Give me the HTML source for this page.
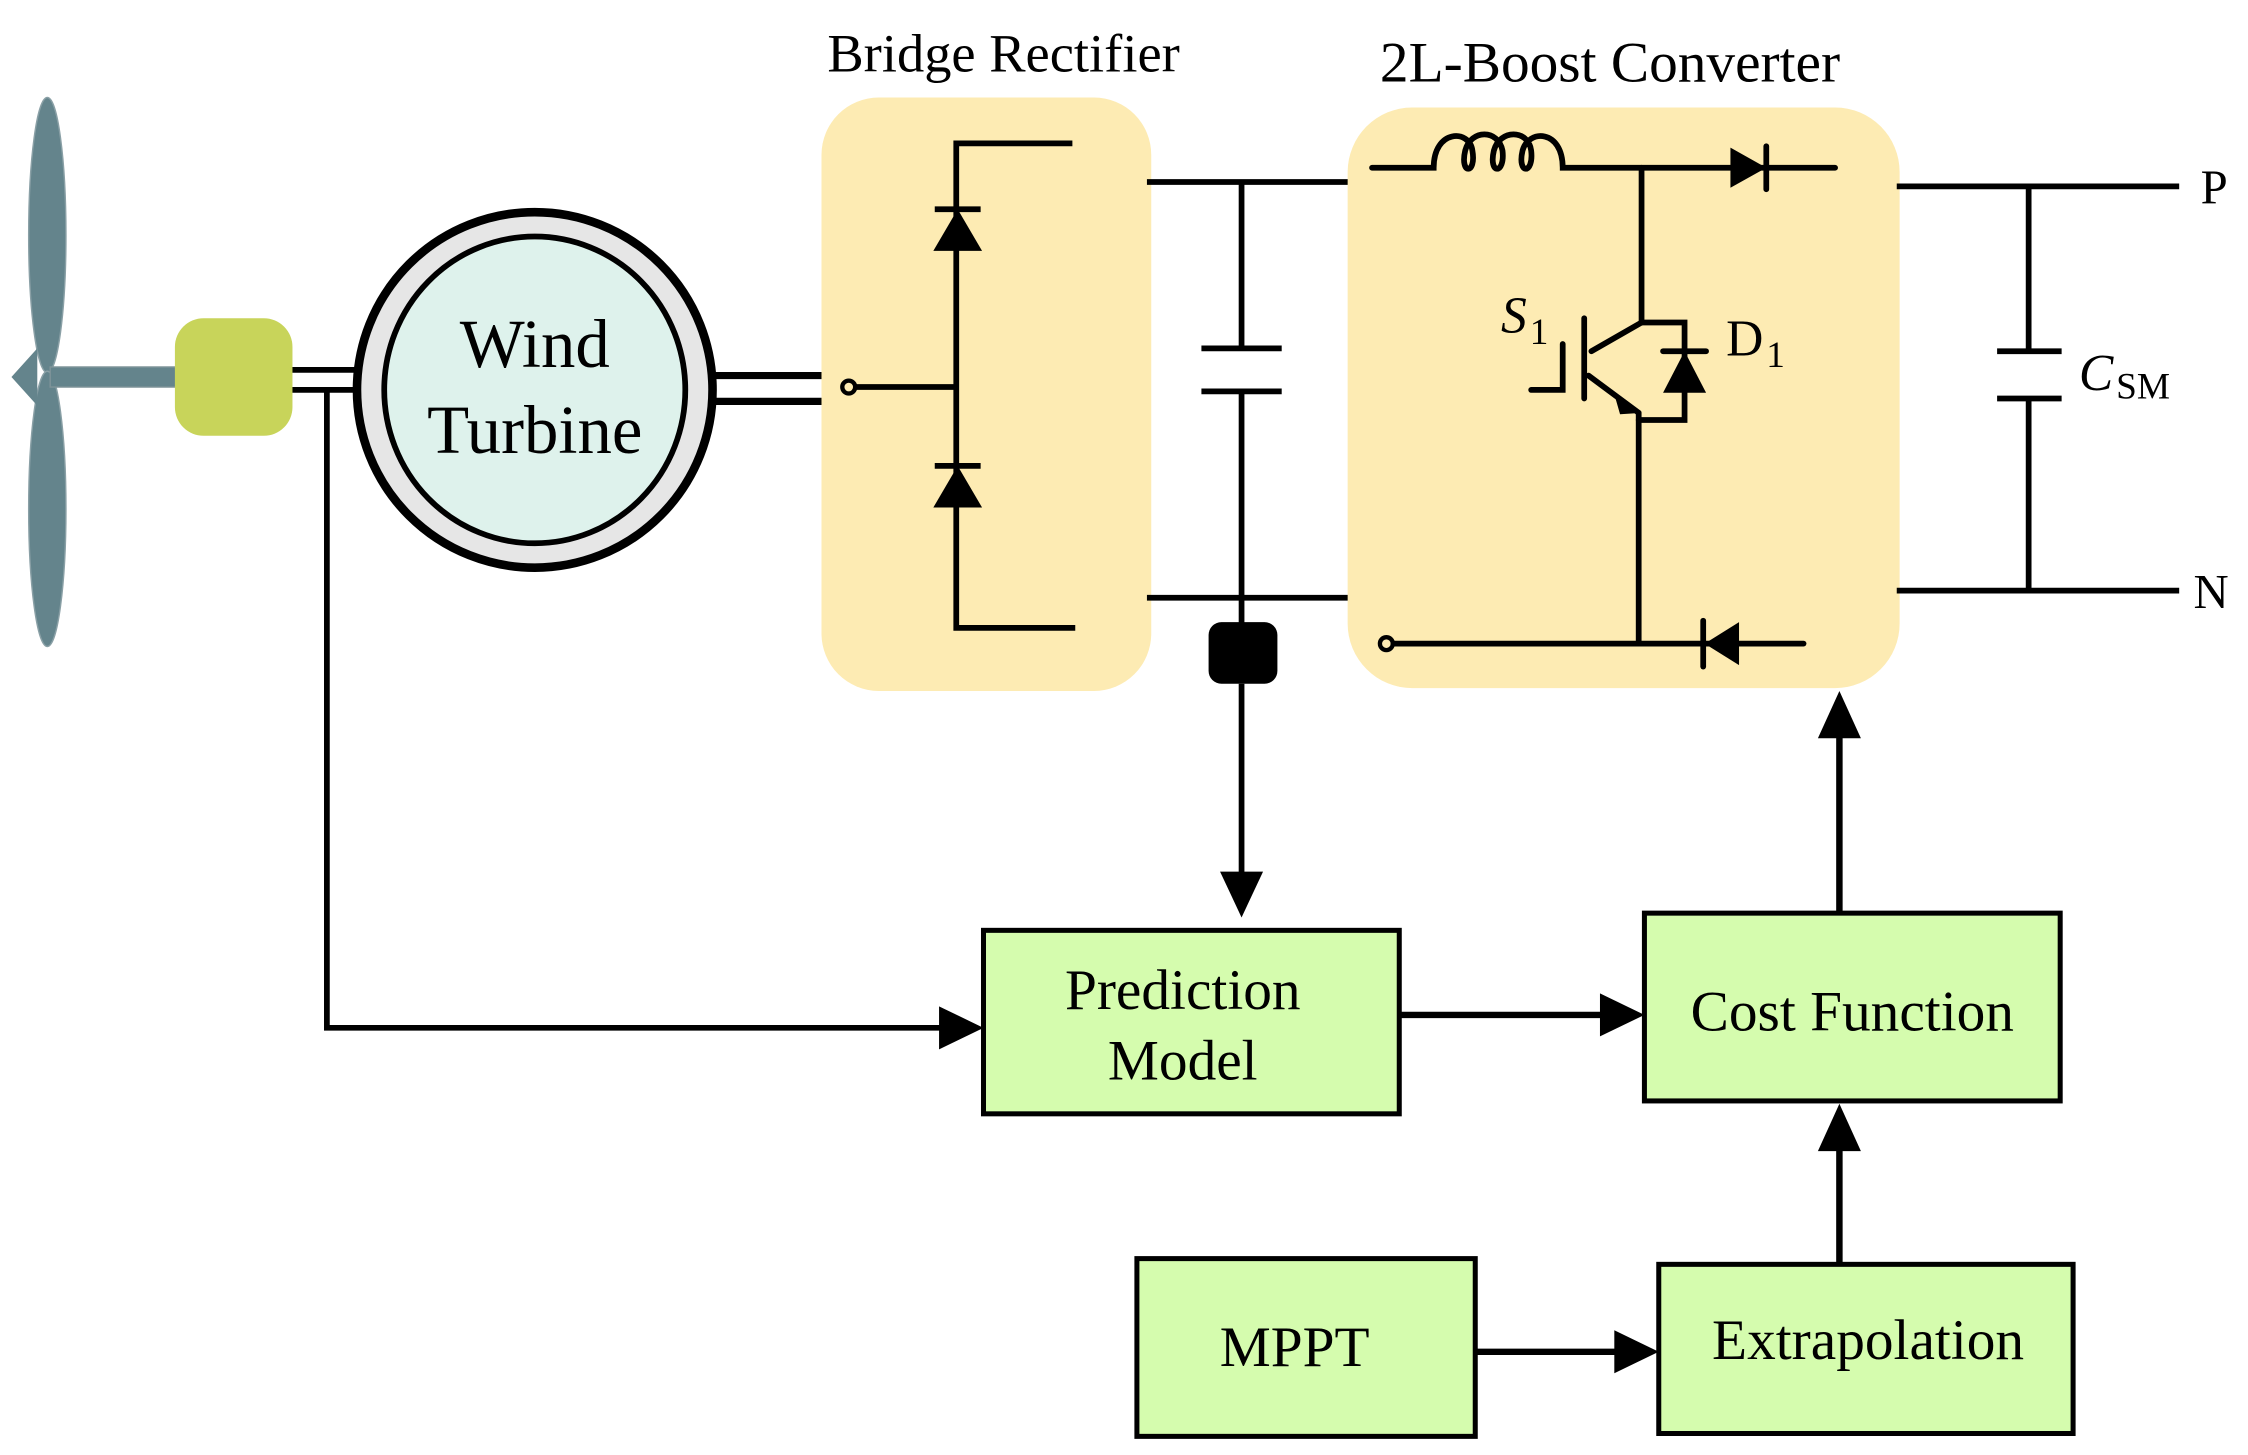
<!DOCTYPE html>
<html><head><meta charset="utf-8"><style>html,body{margin:0;padding:0;background:#fff}svg{display:block}</style></head>
<body>
<svg width="2248" height="1455" viewBox="0 0 1568 1015" preserveAspectRatio="none" xmlns="http://www.w3.org/2000/svg" font-family="Liberation Serif, serif">
<!-- blades -->
<ellipse cx="33" cy="164" rx="13" ry="96" fill="#64848c" stroke="#8aa0a6" stroke-width="1"/>
<ellipse cx="33" cy="355" rx="13" ry="96" fill="#64848c" stroke="#8aa0a6" stroke-width="1"/>
<rect x="35" y="256" width="88" height="14" fill="#64848c" stroke="#7f9499"/>
<path d="M8,263 L26,243 L26,283 Z" fill="#64848c"/>
<rect x="122" y="222" width="82" height="82" rx="20" fill="#c8d45a"/>
<g stroke="#000" stroke-width="4" fill="none">
<line x1="204" y1="258" x2="252" y2="258"/>
<line x1="204" y1="272" x2="252" y2="272"/>
<polyline points="228,272 228,717 660,717" stroke-width="4"/>
</g>
<path d="M655,702 L686,717 L655,732 Z" fill="#000"/>
<!-- generator -->
<ellipse cx="373" cy="272" rx="124" ry="124" fill="#e6e6e6" stroke="#000" stroke-width="6"/>
<ellipse cx="373" cy="272" rx="105" ry="107" fill="#def2ec" stroke="#000" stroke-width="4"/>
<text x="373" y="256" font-size="48" text-anchor="middle">Wind</text>
<text x="373" y="316" font-size="48" text-anchor="middle">Turbine</text>
<g stroke="#000" stroke-width="5"><line x1="498" y1="262" x2="574" y2="262"/><line x1="498" y1="280" x2="574" y2="280"/></g>
<!-- rectifier -->
<rect x="573" y="68" width="230" height="414" rx="40" fill="#fdebb3"/>
<text x="700" y="50" font-size="38" text-anchor="middle">Bridge Rectifier</text>
<g stroke="#000" stroke-width="4" fill="none">
<circle cx="592" cy="270" r="4.5" stroke-width="3"/>
<line x1="597" y1="270" x2="667" y2="270"/>
<polyline points="748,100 667,100 667,438 750,438"/>
<line x1="652" y1="146" x2="684" y2="146"/>
<line x1="652" y1="325" x2="684" y2="325"/>
</g>
<path d="M651,175 L668,146 L685,175 Z" fill="#000"/>
<path d="M651,354 L668,325 L685,354 Z" fill="#000"/>
<!-- DC link -->
<g stroke="#000" stroke-width="4" fill="none">
<line x1="800" y1="127" x2="942" y2="127"/>
<line x1="800" y1="417" x2="942" y2="417"/>
<polyline points="866,127 866,243"/>
<line x1="838" y1="243" x2="894" y2="243"/>
<line x1="838" y1="273" x2="894" y2="273"/>
<polyline points="866,273 866,440"/>
<line x1="866" y1="477" x2="866" y2="615"/>
</g>
<rect x="843" y="434" width="48" height="43" rx="9" fill="#000"/>
<path d="M851,608 L866,640 L881,608 Z" fill="#000"/>
<!-- boost -->
<rect x="940" y="75" width="385" height="405" rx="45" fill="#fdebb3"/>
<text x="1123" y="57" font-size="40" text-anchor="middle">2L-Boost Converter</text>
<g stroke="#000" stroke-width="4" fill="none" stroke-linecap="round">
<path d="M957,117 L1000,117 C1000,90 1025,90 1027,105 C1030,122 1018,122 1022,105 C1026,90 1045,90 1048,105 C1050,122 1038,122 1042,105 C1046,90 1066,90 1068,105 C1070,122 1058,122 1062,105 C1066,90 1090,90 1090,117 L1280,117"/>
<line x1="1232" y1="102" x2="1232" y2="132"/>
<line x1="1145" y1="117" x2="1145" y2="225"/>
<line x1="1145" y1="225" x2="1110" y2="245"/>
<line x1="1105" y1="222" x2="1105" y2="278"/>
<polyline points="1090,240 1090,272 1068,272"/>
<line x1="1108" y1="262" x2="1143" y2="288"/>
<polyline points="1145,225 1175,225 1175,293 1143,293"/>
<line x1="1143" y1="288" x2="1143" y2="449"/>
<line x1="1160" y1="245" x2="1190" y2="245"/>
<circle cx="967" cy="449" r="4.5" stroke-width="3"/>
<line x1="972" y1="449" x2="1258" y2="449"/>
<line x1="1188" y1="433" x2="1188" y2="465"/>
</g>
<path d="M1207,103 L1232,117 L1207,131 Z" fill="#000"/>
<path d="M1126,275 L1145,288 L1130,289 Z" fill="#000"/>
<path d="M1160,274 L1175,245 L1190,274 Z" fill="#000"/>
<path d="M1213,434 L1189,449 L1213,464 Z" fill="#000"/>
<text x="1047" y="232" font-size="36" font-style="italic">S</text><text x="1067" y="240" font-size="26">1</text>
<text x="1204" y="248" font-size="36">D</text><text x="1232" y="256" font-size="26">1</text>
<!-- output -->
<g stroke="#000" stroke-width="4" fill="none">
<line x1="1323" y1="130" x2="1520" y2="130"/>
<line x1="1323" y1="412" x2="1520" y2="412"/>
<line x1="1415" y1="130" x2="1415" y2="245"/>
<line x1="1393" y1="245" x2="1438" y2="245"/>
<line x1="1393" y1="278" x2="1438" y2="278"/>
<line x1="1415" y1="278" x2="1415" y2="412"/>
</g>
<text x="1450" y="272" font-size="36" font-style="italic">C</text><text x="1476" y="278" font-size="26">SM</text>
<text x="1535" y="142" font-size="34">P</text>
<text x="1530" y="424" font-size="34">N</text>
<!-- control boxes -->
<g stroke="#000" stroke-width="3.5" fill="#d5fcae">
<rect x="686" y="649" width="290" height="128"/>
<rect x="1147" y="637" width="290" height="131"/>
<rect x="793" y="878" width="236" height="124"/>
<rect x="1157" y="882" width="289" height="118"/>
</g>
<g font-size="40" text-anchor="middle">
<text x="825" y="704">Prediction</text>
<text x="825" y="753">Model</text>
<text x="1292" y="719">Cost Function</text>
<text x="903" y="953">MPPT</text>
<text x="1303" y="948">Extrapolation</text>
</g>
<g stroke="#000" stroke-width="4.5">
<line x1="976" y1="708" x2="1120" y2="708"/>
<line x1="1029" y1="943" x2="1130" y2="943"/>
<line x1="1283" y1="882" x2="1283" y2="800"/>
<line x1="1283" y1="637" x2="1283" y2="512"/>
</g>
<path d="M1116,693 L1147,708 L1116,723 Z" fill="#000"/>
<path d="M1126,928 L1157,943 L1126,958 Z" fill="#000"/>
<path d="M1268,803 L1283,770 L1298,803 Z" fill="#000"/>
<path d="M1268,515 L1283,482 L1298,515 Z" fill="#000"/>
</svg>
</body></html>
